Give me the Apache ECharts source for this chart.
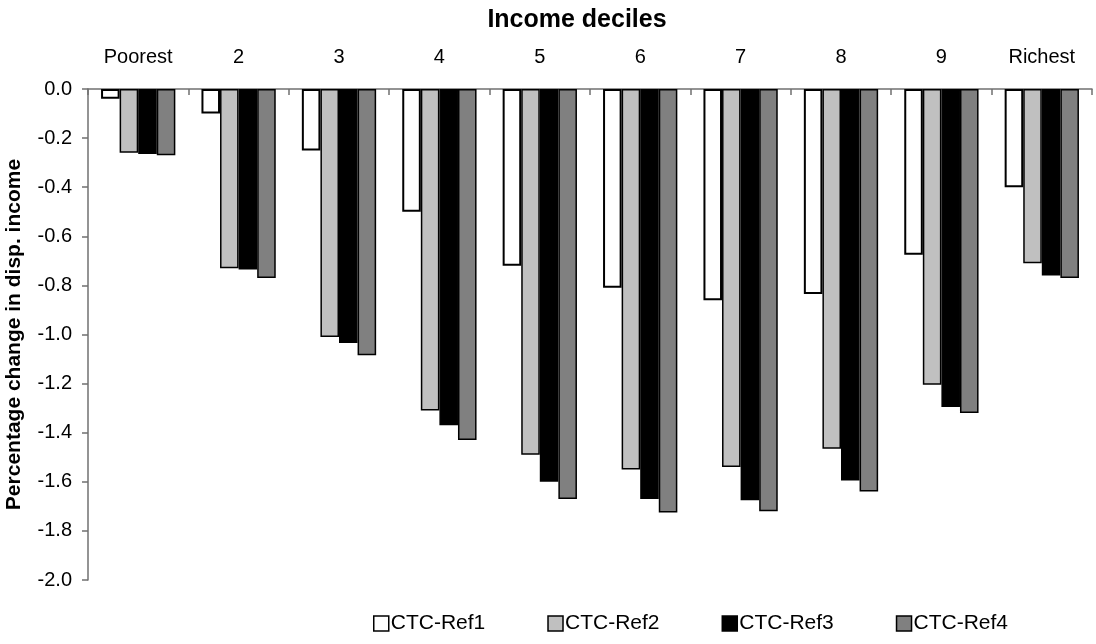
<!DOCTYPE html>
<html>
<head>
<meta charset="utf-8">
<script src="https://cdn.jsdelivr.net/npm/echarts@6/dist/echarts.min.js"></script>
<style>
  html, body { margin: 0; padding: 0; background: #fff; }
  #chart { width: 1096px; height: 644px; }
</style>
</head>
<body>
<div id="chart"></div>
<script>
const deciles = ["Poorest", "2", "3", "4", "5", "6", "7", "8", "9", "Richest"];
const seriesNames = ["CTC-Ref1", "CTC-Ref2", "CTC-Ref3", "CTC-Ref4"];

const ref1 = [-0.04, -0.10, -0.25, -0.50, -0.72, -0.81, -0.86, -0.835, -0.675, -0.40];
const ref2 = [-0.26, -0.73, -1.01, -1.31, -1.49, -1.55, -1.54, -1.465, -1.205, -0.71];
const ref3 = [-0.265, -0.735, -1.035, -1.37, -1.60, -1.67, -1.675, -1.595, -1.295, -0.76];
const ref4 = [-0.27, -0.77, -1.085, -1.43, -1.67, -1.725, -1.72, -1.64, -1.32, -0.77];

const fills = ["#ffffff", "#c0c0c0", "#000000", "#808080"];
const font = "Liberation Sans, Arial, sans-serif";

var chart = echarts.init(document.getElementById("chart"));

function bar(name, data, i) {
  return {
    type: "bar",
    name: name,
    data: data,
    barGap: "0%",
    barCategoryGap: "26%",
    animation: false,
    itemStyle: {
      color: fills[i],
      borderColor: "#000",
      borderWidth: i === 0 ? 2 : 1.5
    }
  };
}

var option = {
  backgroundColor: "#fff",
  title: {
    text: "Income deciles",
    left: 572,
    textAlign: "center",
    top: 3,
    textStyle: { fontFamily: font, fontSize: 25, fontWeight: "bold", color: "#000" }
  },
  legend: {
    bottom: 5,
    left: 368,
    itemWidth: 15,
    itemHeight: 15,
    itemGap: 62,
    icon: "rect",
    textStyle: { fontFamily: font, fontSize: 21, color: "#000", padding: [0, 0, 0, -3] },
    data: seriesNames.map((n, i) => ({
      name: n,
      itemStyle: { color: fills[i], borderColor: "#000", borderWidth: 1.5 }
    }))
  },
  grid: { left: 88, right: 4, top: 89, bottom: 64, containLabel: false, outerBoundsMode: "none" },
  xAxis: {
    type: "category",
    position: "top",
    data: deciles,
    axisLine: { show: true, lineStyle: { color: "#707070", width: 1.5 } },
    axisTick: { show: true, inside: true, length: 6, lineStyle: { color: "#707070", width: 1.5 } },
    axisLabel: { fontFamily: font, fontSize: 20, color: "#000", margin: 22 }
  },
  yAxis: {
    type: "value",
    min: -2,
    max: 0,
    interval: 0.2,
    name: "Percentage change in disp. income",
    nameLocation: "middle",
    nameGap: 63,
    nameTextStyle: { fontFamily: font, fontSize: 21, fontWeight: "bold", color: "#000" },
    axisLine: { show: true, lineStyle: { color: "#707070", width: 1.5 } },
    axisTick: { show: true, length: 6, lineStyle: { color: "#707070", width: 1.5 } },
    axisLabel: {
      fontFamily: font,
      fontSize: 20,
      color: "#000",
      margin: 16,
      formatter: v => v.toFixed(1)
    },
    splitLine: { show: false }
  },
  series: [bar(seriesNames[0], ref1, 0), bar(seriesNames[1], ref2, 1), bar(seriesNames[2], ref3, 2), bar(seriesNames[3], ref4, 3)]
};

chart.setOption(option);
</script>
</body>
</html>
